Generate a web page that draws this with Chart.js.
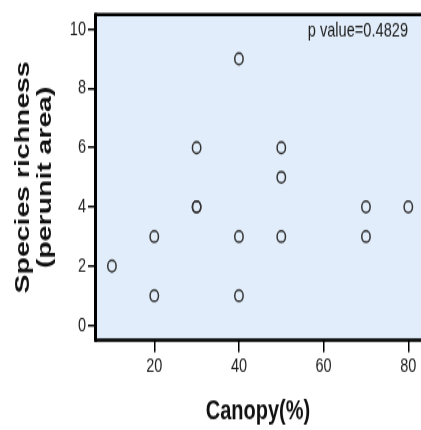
<!DOCTYPE html>
<html>
<head>
<meta charset="utf-8">
<script src="https://cdn.jsdelivr.net/npm/chart.js@4"></script>
<style>
  html, body { margin: 0; padding: 0; background: #fff; overflow: hidden; }
</style>
</head>
<body>
<!-- drawn at 421x318 and shown stretched to 430 tall, like the original export -->
<canvas id="chart" width="421" height="318" style="display:block;width:421px;height:430px"></canvas>
<script>
const canopy   = [10, 20, 20, 30, 30, 30, 40, 40, 40, 50, 50, 50, 70, 70, 80];
const richness = [2, 3, 1, 6, 4, 4, 9, 3, 1, 6, 5, 3, 4, 3, 4];
const xTicks = [20, 40, 60, 80];
const yTicks = [0, 2, 4, 6, 8, 10];
const pValueText = 'p value=0.4829';

const points = canopy.map((c, i) => ({ x: c, y: richness[i] }));

// light blue panel + black frame (left, top, bottom) + p value note
const panel = {
  id: 'panel',
  beforeDraw(chart) {
    const { ctx, chartArea: a } = chart;
    ctx.save();
    ctx.fillStyle = 'rgb(225,237,250)';
    ctx.fillRect(a.left, a.top, a.right - a.left, a.bottom - a.top);
    ctx.restore();
  },
  afterDraw(chart) {
    const { ctx, chartArea: a } = chart;
    ctx.save();
    ctx.strokeStyle = '#000';
    ctx.lineWidth = 2.4;
    ctx.beginPath();
    ctx.moveTo(a.left, a.top); ctx.lineTo(a.right, a.top);
    ctx.moveTo(a.left, a.bottom); ctx.lineTo(a.right, a.bottom);
    ctx.stroke();
    ctx.lineWidth = 3;
    ctx.beginPath();
    ctx.moveTo(a.left + 0.5, a.top - 1.2); ctx.lineTo(a.left + 0.5, a.bottom + 1.2);
    ctx.stroke();
    ctx.fillStyle = '#222';
    ctx.font = '14.6px "Liberation Sans", Arial, sans-serif';
    ctx.textAlign = 'right';
    ctx.textBaseline = 'middle';
    ctx.fillText(pValueText, 408, 23);
    ctx.restore();
  }
};

new Chart(document.getElementById('chart').getContext('2d'), {
  type: 'scatter',
  data: {
    datasets: [{
      data: points,
      pointRadius: 4.2,
      pointHoverRadius: 4.2,
      pointBorderWidth: 1.5,
      borderColor: '#333',
      backgroundColor: 'rgba(0,0,0,0)'
    }]
  },
  options: {
    responsive: false,
    animation: false,
    events: [],
    layout: { autoPadding: false, padding: { top: 7.4, right: 0, bottom: 0, left: 0 } },
    plugins: { legend: { display: false }, tooltip: { enabled: false } },
    scales: {
      x: {
        type: 'linear',
        min: 6,
        max: 83,
        afterBuildTicks: axis => { axis.ticks = xTicks.map(v => ({ value: v })); },
        afterFit: axis => { axis.height = 66.5; },
        border: { display: false },
        grid: { drawOnChartArea: false, drawTicks: true, tickLength: 9, color: '#000', lineWidth: 1.5 },
        ticks: {
          color: '#222',
          padding: 2,
          maxRotation: 0,
          autoSkip: false,
          font: { family: '"Liberation Sans", Arial, sans-serif', size: 14.5 }
        },
        title: {
          display: true,
          text: 'Canopy(%)',
          color: '#111',
          padding: { top: 0, bottom: 2 },
          font: { family: '"Liberation Sans", Arial, sans-serif', size: 20, weight: 'bold', lineHeight: 1.2 }
        }
      },
      y: {
        type: 'linear',
        min: -0.5,
        max: 10.5,
        afterBuildTicks: axis => { axis.ticks = yTicks.map(v => ({ value: v })); },
        afterFit: axis => { axis.width = 95; },
        border: { display: false },
        grid: { drawOnChartArea: false, drawTicks: true, tickLength: 7, color: '#000', lineWidth: 1.5 },
        ticks: {
          color: '#222',
          padding: 2,
          font: { family: '"Liberation Sans", Arial, sans-serif', size: 14.5 }
        },
        title: {
          display: true,
          text: ['Species richness', '(perunit area)'],
          color: '#111',
          padding: { top: 12.7, bottom: 0 },
          font: { family: '"Liberation Sans", Arial, sans-serif', size: 21, weight: 'bold', lineHeight: 1.024 }
        }
      }
    }
  },
  plugins: [panel]
});
</script>
</body>
</html>
